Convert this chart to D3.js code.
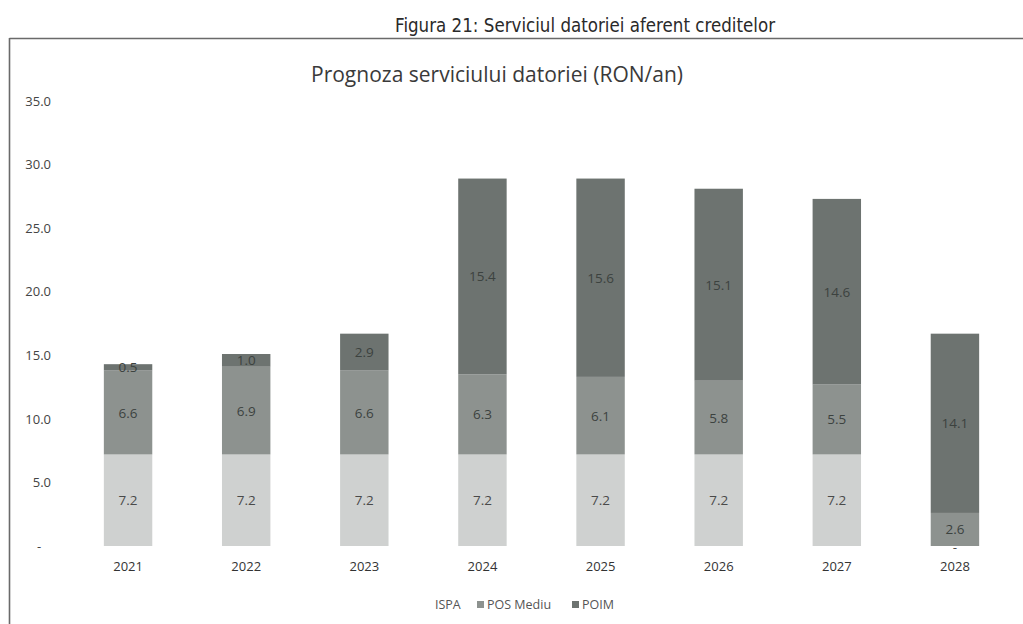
<!DOCTYPE html>
<html>
<head>
<meta charset="utf-8">
<script src="https://cdn.jsdelivr.net/npm/d3@7"></script>
<style>
html,body{margin:0;padding:0;background:#fff;}
svg{display:block;}
</style>
</head>
<body>
<svg id="chart" width="1023" height="624"></svg>
<script>
const years = ["2021","2022","2023","2024","2025","2026","2027","2028"];
const ispa = [7.2, 7.2, 7.2, 7.2, 7.2, 7.2, 7.2, 0];
const posMediu = [6.6, 6.9, 6.6, 6.3, 6.1, 5.8, 5.5, 2.6];
const poim = [0.5, 1.0, 2.9, 15.4, 15.6, 15.1, 14.6, 14.1];
const seriesNames = ["ISPA", "POS Mediu", "POIM"];
const seriesColors = ["#cfd1d0", "#8d928f", "#6d7370"];
const yTicks = [0, 5, 10, 15, 20, 25, 30, 35];

const svg = d3.select("#chart");
const font = "'Open Sans', 'DejaVu Sans', sans-serif";

// frame
svg.append("line").attr("x1", 9.5).attr("x2", 1023).attr("y1", 38.5).attr("y2", 38.5)
  .attr("stroke", "#6a6a6a").attr("stroke-width", 1.6);
svg.append("line").attr("x1", 9.5).attr("x2", 9.5).attr("y1", 38).attr("y2", 624)
  .attr("stroke", "#6a6a6a").attr("stroke-width", 1.6);

// figure title
svg.append("text").attr("x", 585).attr("y", 32).attr("text-anchor", "middle")
  .attr("font-family", "'DejaVu Sans', sans-serif").attr("font-size", 19).attr("fill", "#2a2a2a")
  .attr("textLength", 380).attr("lengthAdjust", "spacingAndGlyphs")
  .text("Figura 21: Serviciul datoriei aferent creditelor");

// chart title
svg.append("text").attr("x", 497).attr("y", 82).attr("text-anchor", "middle")
  .attr("font-family", font).attr("font-size", 21).attr("fill", "#3a3a3a")
  .attr("textLength", 372).attr("lengthAdjust", "spacingAndGlyphs")
  .text("Prognoza serviciului datoriei (RON/an)");

const y = d3.scaleLinear().domain([0, 35]).range([546, 101]);
const x = d3.scaleBand().domain(years).range([69, 1014]).paddingInner(0.59).paddingOuter(0.295);

// y axis labels
const yAxis = d3.axisLeft(y).tickValues(yTicks).tickSize(0)
  .tickFormat(d => d === 0 ? "-" : d3.format(".1f")(d));
const ya = svg.append("g").attr("transform", "translate(54,0)").call(yAxis);
ya.select(".domain").remove();
ya.selectAll("text").attr("font-family", font).attr("font-size", 13).attr("fill", "#444")
  .attr("text-anchor", d => d === 0 ? "middle" : "end").attr("dx", d => d === 0 ? -12 : 0);

// x axis labels
const xAxis = d3.axisBottom(x).tickSize(0);
const xa = svg.append("g").attr("transform", "translate(0,554)").call(xAxis);
xa.select(".domain").remove();
xa.selectAll("text").attr("font-family", font).attr("font-size", 13).attr("fill", "#333").attr("dy", "1.05em");

// stacked data
const rows = years.map((yr, i) => ({year: yr, "ISPA": ispa[i], "POS Mediu": posMediu[i], "POIM": poim[i]}));
const stack = d3.stack().keys(seriesNames)(rows);

stack.forEach((layer, si) => {
  const g = svg.append("g");
  g.selectAll("rect").data(layer).join("rect")
    .attr("x", d => x(d.data.year))
    .attr("width", x.bandwidth())
    .attr("y", d => y(d[1]))
    .attr("height", d => y(d[0]) - y(d[1]))
    .attr("fill", seriesColors[si]);
  g.selectAll("text").data(layer).join("text")
    .attr("x", d => x(d.data.year) + x.bandwidth() / 2)
    .attr("y", d => d[1] - d[0] === 0 ? y(d[0]) + 6 : (y(d[0]) + y(d[1])) / 2 + 5)
    .attr("text-anchor", "middle")
    .attr("font-family", font).attr("font-size", 13.5)
    .attr("fill", si === 0 ? "#4a4a4a" : "#3c423f")
    .text(d => d[1] - d[0] === 0 ? "-" : d3.format(".1f")(d[1] - d[0]));
});

// legend
const legendItems = [
  {name: "ISPA", x: 435, marker: false},
  {name: "POS Mediu", x: 477, marker: true},
  {name: "POIM", x: 572, marker: true}
];
const lg = svg.append("g");
legendItems.forEach((it, i) => {
  const idx = seriesNames.indexOf(it.name);
  if (it.marker) {
    lg.append("rect").attr("x", it.x).attr("y", 601).attr("width", 7).attr("height", 7)
      .attr("fill", seriesColors[idx]);
  }
  lg.append("text").attr("x", it.marker ? it.x + 10 : it.x).attr("y", 609)
    .attr("font-family", font).attr("font-size", 12.5).attr("fill", "#555")
    .text(it.name);
});
</script>
</body>
</html>
